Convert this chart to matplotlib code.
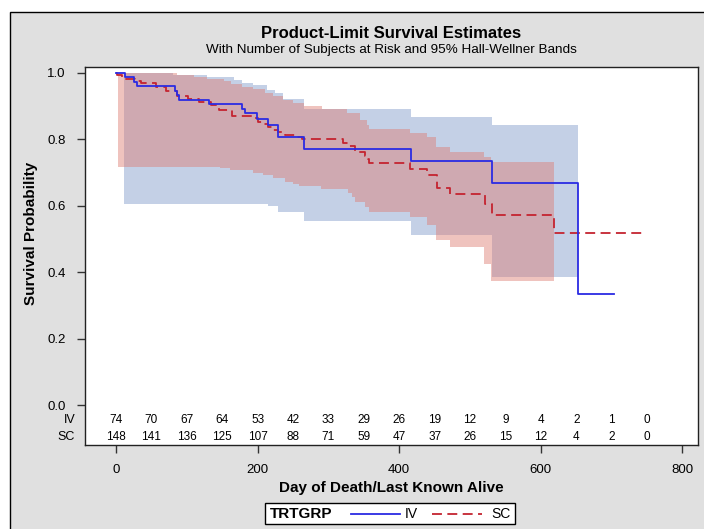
import matplotlib
matplotlib.use("Agg")
import matplotlib.pyplot as plt
from matplotlib.lines import Line2D
from matplotlib.patches import Rectangle

plt.rcParams['font.family'] = ['Liberation Sans', 'DejaVu Sans']

W, H = 704, 529

# ---- Kaplan-Meier estimates, IV arm ----
iv_time = [0, 12.7, 25, 29, 84, 86, 89, 131, 178, 182, 199, 214, 229, 265, 416, 531, 652]
iv_surv = [1.0, 0.986, 0.973, 0.960, 0.946, 0.932, 0.919, 0.905, 0.891, 0.878,
           0.860, 0.843, 0.808, 0.770, 0.733, 0.667, 0.333]
iv_last = 704

# ---- Kaplan-Meier estimates, SC arm ----
sc_time = [0, 2, 8, 12, 27, 36, 57, 71, 86, 101, 117, 134, 145, 164, 194, 200, 208,
           215, 222, 229, 239, 255, 262, 321, 328, 338, 352, 356, 358, 415, 439, 453,
           472, 521, 531, 618]
sc_surv = [1.0, 0.993, 0.986, 0.980, 0.976, 0.969, 0.957, 0.944, 0.931, 0.921, 0.911,
           0.903, 0.888, 0.870, 0.863, 0.853, 0.845, 0.838, 0.828, 0.821, 0.813, 0.806,
           0.801, 0.788, 0.778, 0.762, 0.748, 0.740, 0.727, 0.710, 0.692, 0.654, 0.635,
           0.604, 0.572, 0.517]
sc_last = 748

# ---- 95% Hall-Wellner bands, IV arm ----
iv_lo_time = [11, 214, 229, 265, 416, 531]
iv_lo = [0.604, 0.599, 0.582, 0.554, 0.511, 0.385]
iv_hi_time = [11, 81, 128, 166, 178, 194, 213, 225, 236, 265, 416, 531]
iv_hi = [1.0, 0.993, 0.987, 0.979, 0.970, 0.962, 0.948, 0.940, 0.922, 0.891, 0.866, 0.843]
iv_band_end = 652

# ---- 95% Hall-Wellner bands, SC arm ----
sc_lo_time = [3, 147, 161, 194, 208, 222, 239, 250, 258, 290, 327, 333, 338, 352, 357,
              415, 439, 452, 472, 520, 530]
sc_lo = [0.716, 0.712, 0.707, 0.699, 0.692, 0.682, 0.672, 0.665, 0.659, 0.649, 0.637,
         0.627, 0.610, 0.597, 0.582, 0.567, 0.542, 0.497, 0.475, 0.425, 0.374]
sc_hi_time = [3, 40, 86, 110, 128, 152, 162, 178, 194, 210, 222, 236, 250, 265, 291, 326,
              345, 355, 358, 415, 439, 452, 472, 520, 530]
sc_hi = [1.0, 0.998, 0.993, 0.988, 0.982, 0.975, 0.965, 0.958, 0.950, 0.940, 0.930, 0.918,
         0.908, 0.900, 0.890, 0.880, 0.857, 0.842, 0.830, 0.818, 0.805, 0.777, 0.760,
         0.747, 0.732]
sc_band_end = 618

# ---- Number at risk ----
risk_days = [0, 50, 100, 150, 200, 250, 300, 350, 400, 450, 500, 550, 600, 650, 700, 750]
risk_iv = [74, 70, 67, 64, 53, 42, 33, 29, 26, 19, 12, 9, 4, 2, 1, 0]
risk_sc = [148, 141, 136, 125, 107, 88, 71, 59, 47, 37, 26, 15, 12, 4, 2, 0]

groups = ['IV', 'SC']
x_ticks = [0, 200, 400, 600, 800]
y_ticks = [0.0, 0.2, 0.4, 0.6, 0.8, 1.0]

BLUE = '#2B2BE3'
RED = '#C42430'
BLUE_BAND = '#C4D0E6'
RED_BAND = (0.87, 0.49, 0.45, 0.46)
BG = '#E0E0E0'


def extend(times, vals, end):
    """Append the end point so a post-step reaches the last time."""
    return list(times) + [end], list(vals) + [vals[-1]]


def stepval(times, vals, x):
    v = vals[0]
    for ti, vi in zip(times, vals):
        if ti <= x:
            v = vi
    return v


def px(x):
    return x / W


def py(y):
    return 1 - y / H


fig = plt.figure(figsize=(W / 100, H / 100), dpi=100)
fig.patch.set_facecolor('white')
fig.patches.append(Rectangle((px(10), py(560)), px(720), (560 - 12) / H,
                             transform=fig.transFigure, facecolor=BG,
                             edgecolor='black', linewidth=1.0, zorder=-10))

left, right, top, bottom = 85, 698, 67, 445
ax = fig.add_axes([px(left), py(bottom), (right - left) / W, (bottom - top) / H])
ax.set_facecolor('white')
ax.set_xlim(-43.8, 822)
ax.set_ylim(-0.1197, 1.017)

# confidence bands
for lo_t, lo_v, hi_t, hi_v, end, col, z in [
        (iv_lo_time, iv_lo, iv_hi_time, iv_hi, iv_band_end, BLUE_BAND, 1),
        (sc_lo_time, sc_lo, sc_hi_time, sc_hi, sc_band_end, RED_BAND, 2)]:
    t, lo = extend(lo_t, lo_v, end)
    t2, hi = extend(hi_t, hi_v, end)
    tt = sorted(set(t) | set(t2))
    ax.fill_between(tt, [stepval(t, lo, x) for x in tt], [stepval(t2, hi, x) for x in tt],
                    step='post', facecolor=col, edgecolor='none', linewidth=0, zorder=z)

# survival curves
t, s = extend(iv_time, iv_surv, iv_last)
ax.step(t, s, where='post', color=BLUE, lw=1.3, zorder=4)
t, s = extend(sc_time, sc_surv, sc_last)
ax.step(t, s, where='post', color=RED, lw=1.3, ls=(0, (5.5, 3)), zorder=3)

# at-risk table inside the plot area
row_y = [-0.0445, -0.0956]
for g, counts, yy in zip(groups, [risk_iv, risk_sc], row_y):
    for d, c in zip(risk_days, counts):
        ax.text(d, yy, str(c), ha='center', va='center', fontsize=8.5)
    ax.text(-0.016, yy, g, ha='right', va='center', fontsize=9,
            transform=ax.get_yaxis_transform())

ax.set_xticks(x_ticks)
ax.set_xticklabels([str(v) for v in x_ticks])
ax.set_yticks(y_ticks)
ax.set_yticklabels([f'{v:.1f}' for v in y_ticks])
ax.tick_params(axis='both', direction='out', length=6, width=1, color='#333333',
               labelsize=9.5, pad=8)
for sp in ax.spines.values():
    sp.set_color('#222222')
    sp.set_linewidth(1.0)

fig.text(px(391.5), py(33), 'Product-Limit Survival Estimates', ha='center', va='center',
         fontsize=12, fontweight='bold')
fig.text(px(391.5), py(50), 'With Number of Subjects at Risk and 95% Hall-Wellner Bands',
         ha='center', va='center', fontsize=9.7)
fig.text(px(391.5), py(488), 'Day of Death/Last Known Alive', ha='center', va='center',
         fontsize=11, fontweight='bold')
fig.text(px(31), py(233), 'Survival Probability', ha='center', va='center', rotation=90,
         fontsize=11, fontweight='bold')

# legend
lx0, lx1, ly0, ly1 = 265, 515, 503, 524
fig.patches.append(Rectangle((px(lx0), py(ly1)), (lx1 - lx0) / W, (ly1 - ly0) / H,
                             transform=fig.transFigure, facecolor='white',
                             edgecolor='black', linewidth=1.0, zorder=5))
ly = (ly0 + ly1) / 2
fig.text(px(270), py(ly), 'TRTGRP', ha='left', va='center', fontsize=11, fontweight='bold', zorder=6)
fig.add_artist(Line2D([px(351), px(400)], [py(ly), py(ly)], transform=fig.transFigure,
                      color=BLUE, lw=1.3, zorder=6))
fig.text(px(405), py(ly), groups[0], ha='left', va='center', fontsize=10, zorder=6)
fig.add_artist(Line2D([px(432), px(482)], [py(ly), py(ly)], transform=fig.transFigure,
                      color=RED, lw=1.3, ls=(0, (5.5, 3)), zorder=6))
fig.text(px(491), py(ly), groups[1], ha='left', va='center', fontsize=10, zorder=6)

fig.savefig('out.png', dpi=100)
